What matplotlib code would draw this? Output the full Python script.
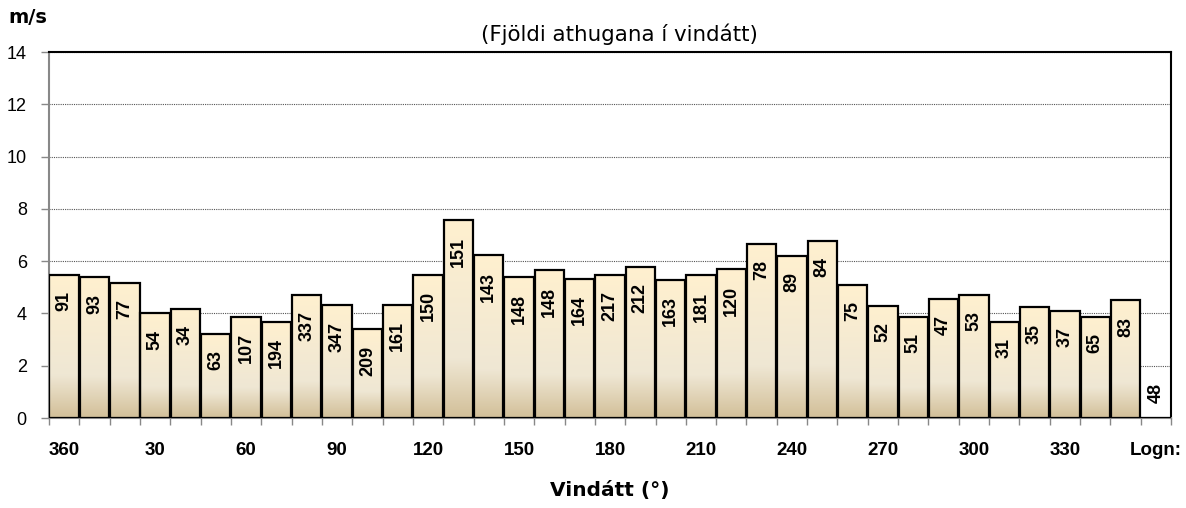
import matplotlib.pyplot as plt
import numpy as np
from matplotlib.colors import LinearSegmentedColormap

plt.rcParams["font.family"] = ["Liberation Sans", "DejaVu Sans"]

# directions 360, 10, ..., 350 and calm ("Logn:")
directions = [360] + list(range(10, 360, 10)) + ["Logn:"]
speeds = [5.47, 5.38, 5.16, 4.0, 4.19, 3.23, 3.87, 3.67, 4.7, 4.31, 3.39, 4.33,
          5.47, 7.56, 6.22, 5.38, 5.65, 5.33, 5.49, 5.79, 5.28, 5.46, 5.69, 6.67,
          6.2, 6.78, 5.08, 4.29, 3.87, 4.56, 4.7, 3.67, 4.23, 4.11, 3.87, 4.5, 0.0]
counts = [91, 93, 77, 54, 34, 63, 107, 194, 337, 347, 209, 161, 150, 151, 143,
          148, 148, 164, 217, 212, 163, 181, 120, 78, 89, 84, 75, 52, 51, 47, 53,
          31, 35, 37, 65, 83, 48]
tick_labels = ["360", "30", "60", "90", "120", "150", "180", "210", "240",
               "270", "300", "330", "Logn:"]

fig = plt.figure(figsize=(11.86, 5.08), dpi=100)
ax = fig.add_axes([0.0413, 0.177, 0.9461, 0.7206])

x = np.arange(len(speeds))
bars = ax.bar(x, speeds, width=0.97, color="none", edgecolor="black",
              linewidth=1.6, zorder=3)

cmap = LinearSegmentedColormap.from_list(
    "tan", [(0.0, "#d2bf98"), (0.3, "#efe7d4"), (1.0, "#fff0cf")])
grad = np.linspace(0, 1, 256).reshape(-1, 1)
for b in bars:
    h = b.get_height()
    if h <= 0:
        continue
    x0 = b.get_x()
    im = ax.imshow(grad, cmap=cmap, origin="lower", aspect="auto",
                   extent=[x0, x0 + b.get_width(), 0, h], zorder=2)
    im.set_clip_path(b)

for xi, h, c in zip(x, speeds, counts):
    if h > 0:
        ax.text(xi, h - 0.62, str(c), rotation=90, ha="center", va="top",
                fontsize=13, fontweight="bold", zorder=4)
    else:
        ax.text(xi, 0.95, str(c), rotation=90, ha="center", va="center",
                fontsize=13, fontweight="bold", zorder=4)

ax.set_xlim(-0.5, len(speeds) - 0.5)
ax.set_ylim(0, 14)
ax.set_yticks(range(0, 15, 2))
ax.yaxis.grid(True, linestyle=(0, (1, 1)), color="#555555", linewidth=0.8, zorder=1)
ax.set_axisbelow(True)

ax.set_xticks(x[::3])
ax.set_xticklabels(tick_labels, fontsize=13.5, fontweight="bold")
ax.set_xticks(np.arange(-0.5, len(speeds), 1), minor=True)
ax.tick_params(axis="x", which="major", length=0, pad=17)
ax.tick_params(axis="x", which="minor", length=5, color="#888888", width=1)
ax.tick_params(axis="y", length=6, color="#888888", width=1, labelsize=13, pad=10)

ax.spines["left"].set_color("#888888")
ax.spines["left"].set_linewidth(1.5)
ax.spines["bottom"].set_color("#888888")
ax.spines["bottom"].set_linewidth(1.5)
ax.spines["top"].set_linewidth(1.5)
ax.spines["right"].set_linewidth(1.5)

ax.set_xlabel("Vindátt (°)", fontsize=14.5, fontweight="bold", labelpad=16,
              family="DejaVu Sans")
ax.set_title("(Fjöldi athugana í vindátt)", fontsize=15.4, pad=8, x=0.508,
             family="DejaVu Sans")
fig.text(0.007, 0.966, "m/s", fontsize=14, fontweight="bold", ha="left",
         va="center", family="DejaVu Sans")

fig.savefig("out.png", dpi=100)
